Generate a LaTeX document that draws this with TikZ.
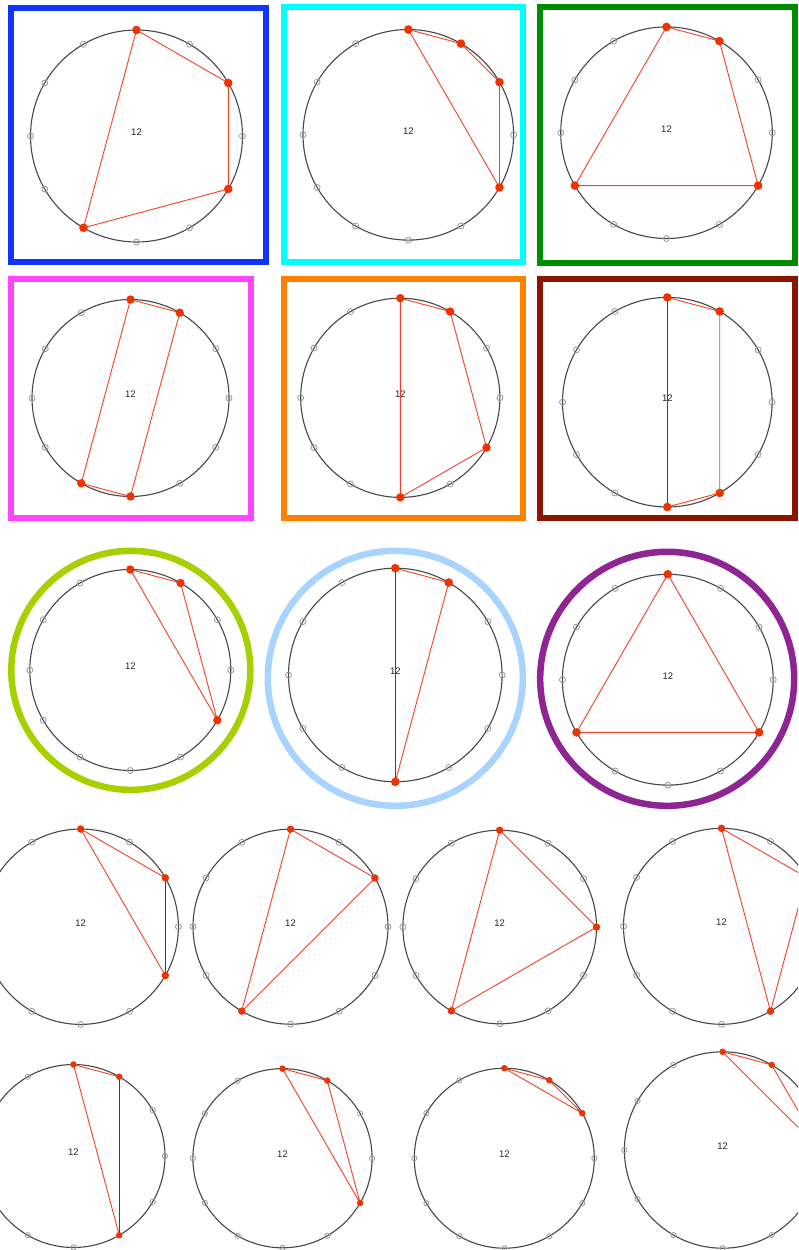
\documentclass[tikz,border=0pt]{standalone}
\usepackage{fontspec}
\setmainfont{Liberation Sans}
\definecolor{fblue}{HTML}{1133FF}
\definecolor{fcyan}{HTML}{00FFFF}
\definecolor{fgreen}{HTML}{008C00}
\definecolor{fmagenta}{HTML}{FF44FF}
\definecolor{forange}{HTML}{FF8000}
\definecolor{fdarkred}{HTML}{8B1500}
\definecolor{fyellowgreen}{HTML}{A8D000}
\definecolor{flightblue}{HTML}{A8D4FF}
\definecolor{fpurple}{HTML}{8E2592}
\definecolor{dotred}{HTML}{EE3300}
\definecolor{chordred}{HTML}{F5402A}
\definecolor{chorddk}{HTML}{A81A00}
\tikzset{
  circ/.style={draw=black!72, line width=1.1pt},
  hollow/.style={draw=black!40, line width=0.8pt},
  chord/.style={draw=chordred, line width=0.9pt},
  chorddark/.style={draw=chorddk, line width=1pt},
  dotst/.style={fill=dotred},
  lab/.style={font=\fontsize{9.5}{10}\selectfont, text=black!85, inner sep=0pt},
  frame/.style={line width=6pt},
  ring/.style={line width=6.5pt},
}
\newcommand\clockface[6]{%
  \coordinate (#1-c) at (#2,#3);
  \draw[circ] (#1-c) circle[radius=#4];
  \foreach \k in {0,...,11}{
    \coordinate (#1-\k) at ({#2+#4*cos(30*\k-90)},{#3+#4*sin(30*\k-90)});
    \draw[hollow] (#1-\k) circle[radius=#6];
  }
  \node[lab] (#1-t) at ({#2},{#3-4}) {12};
}
\newcommand\reddots[3]{%
  \foreach \k in {#2}{\fill[dotst] (#1-\k) circle[radius=#3];}
}
\begin{document}
\begin{tikzpicture}[x=1pt,y=-1pt]
\useasboundingbox (0,0) rectangle (798,1250);
\clip (0,0) rectangle (798,1250);
\fill[white] (0,0) rectangle (798,1250);
% frames
\draw[frame,fblue] (11.3,7.8) rectangle (265.5,262);
\draw[frame,fcyan] (283.5,6.8) rectangle (523.2,262);
\draw[frame,fgreen] (539.7,6.5) rectangle (795,262.5);
\draw[frame,fmagenta] (11.2,278.8) rectangle (251.2,517.8);
\draw[frame,forange] (283.8,278.5) rectangle (523.2,517.8);
\draw[frame,fdarkred] (539.7,278.8) rectangle (794.5,517.8);
\draw[ring,fyellowgreen] (130.8,670.3) circle[radius=119.5];
\draw[ring,flightblue] (395.3,678.3) circle[radius=127.5];
\draw[ring,fpurple] (667.2,678.8) circle[radius=127];
% row 1
\clockface{a}{136.5}{136}{106}{4.3}{3}
\draw[chord] (a-0) -- (a-2) -- (a-4) -- (a-7) -- cycle;
\reddots{a}{0,2,4,7}{4.3}
\clockface{b}{408.3}{134.8}{105.3}{4.3}{3}
\draw[chord] (b-0) -- (b-1) -- (b-2) -- (b-4) -- cycle;
\reddots{b}{0,1,2,4}{4.3}
\clockface{c}{666.5}{132.7}{105.8}{4.3}{3}
\draw[chord] (c-0) -- (c-1) -- (c-4) -- (c-8) -- cycle;
\reddots{c}{0,1,4,8}{4.3}
% row 2
\clockface{d}{130.5}{398}{98.5}{4.2}{3}
\draw[chord] (d-0) -- (d-1) -- (d-6) -- (d-7) -- cycle;
\reddots{d}{0,1,6,7}{4.2}
\clockface{e}{400.3}{397.8}{99.6}{4.2}{3}
\draw[chord] (e-0) -- (e-1) -- (e-4) -- (e-6) -- cycle;
\reddots{e}{0,1,4,6}{4.2}
\clockface{f}{667.3}{402.2}{104.8}{4.3}{3}
\draw[chord] (f-0) -- (f-1) -- (f-5) -- (f-6);
\draw[chorddark] (f-6) -- (f-0);
\reddots{f}{0,1,5,6}{4.3}
% row 3
\clockface{g}{130.3}{670}{100.5}{4.2}{3}
\draw[chord] (g-0) -- (g-1) -- (g-4) -- cycle;
\reddots{g}{0,1,4}{4.2}
\clockface{h}{395.3}{675}{106.8}{4.3}{3}
\draw[chord] (h-0) -- (h-1) -- (h-6);
\draw[chorddark] (h-6) -- (h-0);
\reddots{h}{0,1,6}{4.3}
\clockface{i}{667.8}{679.7}{105.4}{4.3}{3}
\draw[chord] (i-0) -- (i-4) -- (i-8) -- cycle;
\reddots{i}{0,4,8}{4.3}
% row 4
\clockface{j}{80.7}{926.7}{97.7}{3.7}{3}
\draw[chord] (j-4) -- (j-0) -- (j-2);
\draw[chorddark] (j-2) -- (j-4);
\reddots{j}{0,2,4}{3.7}
\clockface{k}{290.5}{926.7}{97.5}{3.7}{3}
\draw[chord] (k-0) -- (k-2) -- (k-7) -- cycle;
\reddots{k}{0,2,7}{3.7}
\clockface{l}{499.7}{927}{96.8}{3.7}{3}
\draw[chord] (l-0) -- (l-3) -- (l-7) -- cycle;
\reddots{l}{0,3,7}{3.7}
\clockface{m}{721.5}{926.3}{98}{3.7}{3}
\draw[chord] (m-0) -- (m-2) -- (m-5) -- cycle;
\reddots{m}{0,2,5}{3.7}
% row 5
\clockface{n}{73.5}{1156}{91.5}{3.2}{2.6}
\draw[chord] (n-5) -- (n-0) -- (n-1);
\draw[chorddark] (n-1) -- (n-5);
\reddots{n}{0,1,5}{3.2}
\clockface{o}{282.5}{1158.2}{89.6}{3.2}{2.6}
\draw[chord] (o-0) -- (o-1) -- (o-4) -- cycle;
\reddots{o}{0,1,4}{3.2}
\clockface{p}{504.3}{1158.2}{90}{3.2}{2.6}
\draw[chord] (p-0) -- (p-1) -- (p-2) -- cycle;
\reddots{p}{0,1,2}{3.2}
\clockface{q}{722.6}{1150}{98.2}{3.2}{2.6}
\draw[chord] (q-0) -- (q-1) -- (q-3) -- cycle;
\reddots{q}{0,1,3}{3.2}
\end{tikzpicture}
\end{document}
